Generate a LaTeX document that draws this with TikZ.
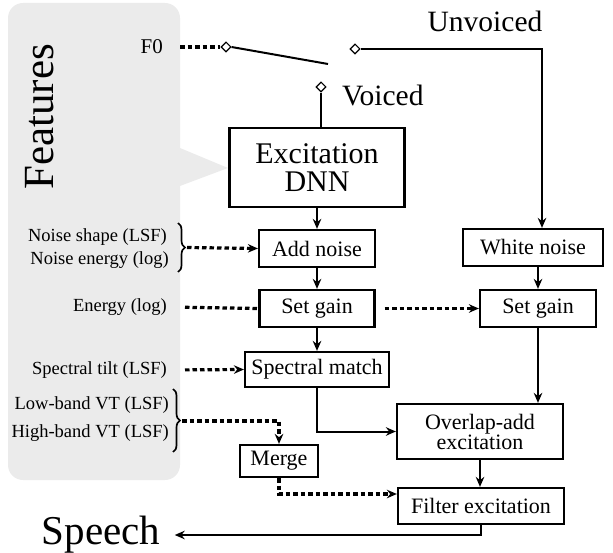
\documentclass[tikz,border=0pt]{standalone}
\usepackage{fontspec}
\setmainfont{Liberation Serif}
\usepackage{xcolor}
\usepackage{tikz}
\usetikzlibrary{positioning}
\usetikzlibrary{shapes.geometric}
\usetikzlibrary{arrows.meta}
\usetikzlibrary{decorations.pathreplacing}
\definecolor{panelgray}{HTML}{EBEBEB}

\begin{document}
\begin{tikzpicture}
  [x=1pt, y=-1pt,
    blk/.style={draw=black, line width=2.2pt, inner sep=0pt, align=center,
      font=\fontsize{22}{20}\selectfont},
    lbl/.style={anchor=east, inner sep=0pt, font=\fontsize{18.5}{20}\selectfont},
    sw/.style={diamond, draw=black, fill=white, line width=1.1pt, inner sep=0pt, minimum size=10pt},
    ln/.style={draw=black, line width=2pt},
    ar/.style={ln, -{Stealth[length=10pt, width=8.5pt]}},
    dt/.style={draw=black, line width=3.2pt, dash pattern=on 4.5pt off 3pt},
    dar/.style={dt, -{Stealth[length=10pt, width=8.5pt]}},
    br/.style={draw=black, line width=1.7pt, decorate, decoration={brace, amplitude=7pt}}
  ]
  \useasboundingbox (0,0) rectangle (613,553);

  % feature panel with its pointer to the DNN
  \fill[panelgray, rounded corners=15pt] (8,3) rectangle (180,480);
  \fill[panelgray] (180,148) -- (228,168) -- (180,186) -- cycle;
  \node (feat) at (40,117) [rotate=90, font=\fontsize{43}{43}\selectfont] {Features};

  \node (exc)   at (317,167.5) [blk, minimum width=175pt, minimum height=79pt,
                                font=\fontsize{30}{28}\selectfont] {Excitation\\DNN};
  \node (addn)  at (317,248.5) [blk, minimum width=116pt, minimum height=37pt] {Add noise};
  \node (gainL) at (317,308.5) [blk, minimum width=115pt, minimum height=37pt] {Set gain};
  \node (spec)  at (317,369.5) [blk, minimum width=144pt, minimum height=35pt] {Spectral match};
  \node (white) at (533,247.5) [blk, minimum width=140pt, minimum height=37pt] {White noise};
  \node (gainR) at (538,308.5) [blk, minimum width=116pt, minimum height=37pt] {Set gain};
  \node (ola)   at (480,431.5) [blk, minimum width=166pt, minimum height=55pt] {Overlap-add\\excitation};
  \node (filt)  at (481,506)   [blk, minimum width=166pt, minimum height=36pt] {Filter excitation};
  \node (merge) at (279,461)   [blk, minimum width=78pt, minimum height=32pt] {Merge};

  \node (f0)      at (163,47)  [lbl, font=\fontsize{21}{21}\selectfont] {F0};
  \node (nshape)  at (167,237) [lbl] {Noise shape (LSF)};
  \node (nenergy) at (169,260) [lbl] {Noise energy (log)};
  \node (energy)  at (167,307) [lbl] {Energy (log)};
  \node (tilt)    at (167,370) [lbl] {Spectral tilt (LSF)};
  \node (lowvt)   at (169,405) [lbl] {Low-band VT (LSF)};
  \node (highvt)  at (169,433) [lbl] {High-band VT (LSF)};

  \node (sw0) at (226,47) [sw] {};
  \node (swU) at (355,49) [sw] {};
  \node (swV) at (321,87) [sw] {};
  \coordinate (arm) at (328,64);
  \node (unv) at (485,21) [font=\fontsize{29.5}{30}\selectfont] {Unvoiced};
  \node (voi) [right=12pt of swV, yshift=-8pt, font=\fontsize{29.5}{30}\selectfont] {Voiced};
  \node (speech) at (101,535) [font=\fontsize{41}{41}\selectfont] {Speech};

  \draw[br] (178,223) -- (178,272);
  \coordinate (nb) at (187,247.5);
  \draw[br] (173,389) -- (173,452);
  \coordinate (vb) at (182,421);

  % switch
  \draw[dt, shorten <=17pt] (f0.east) -- (sw0.west);
  \draw[ln] (sw0.east) -- (arm);
  \draw[ar] (swU.east) -| ([xshift=9pt]white.north);
  \draw[ln] (swV.south) -- (swV.south |- exc.north);

  % voiced branch
  \draw[ar] (exc.south) -- (addn.north);
  \draw[ar] (addn.south) -- (gainL.north);
  \draw[ar] (gainL.south) -- (spec.north);
  \draw[ar] (spec.south) |- (ola.west);

  % unvoiced branch
  \draw[ar] (gainR.north |- white.south) -- (gainR.north);
  \draw[ar] (gainR.south) -- (gainR.south |- ola.north);
  \draw[ar] (ola.south) -- (ola.south |- filt.north);
  \draw[ar, shorten >=11pt] (filt.south) |- (speech.east);

  % feature inputs
  \draw[dar] (nb) -- (addn.west);
  \draw[dt, shorten <=18pt] (energy.east) -- (gainL.west);
  \draw[dar, shorten <=9pt] (gainL.east) -- (gainR.west);
  \draw[dar, shorten <=18pt] (tilt.east) -- (spec.west);
  \draw[dar] (vb) -| (merge.north);
  \draw[dar] (merge.south) |- ([yshift=12pt]filt.west);
\end{tikzpicture}
\end{document}
